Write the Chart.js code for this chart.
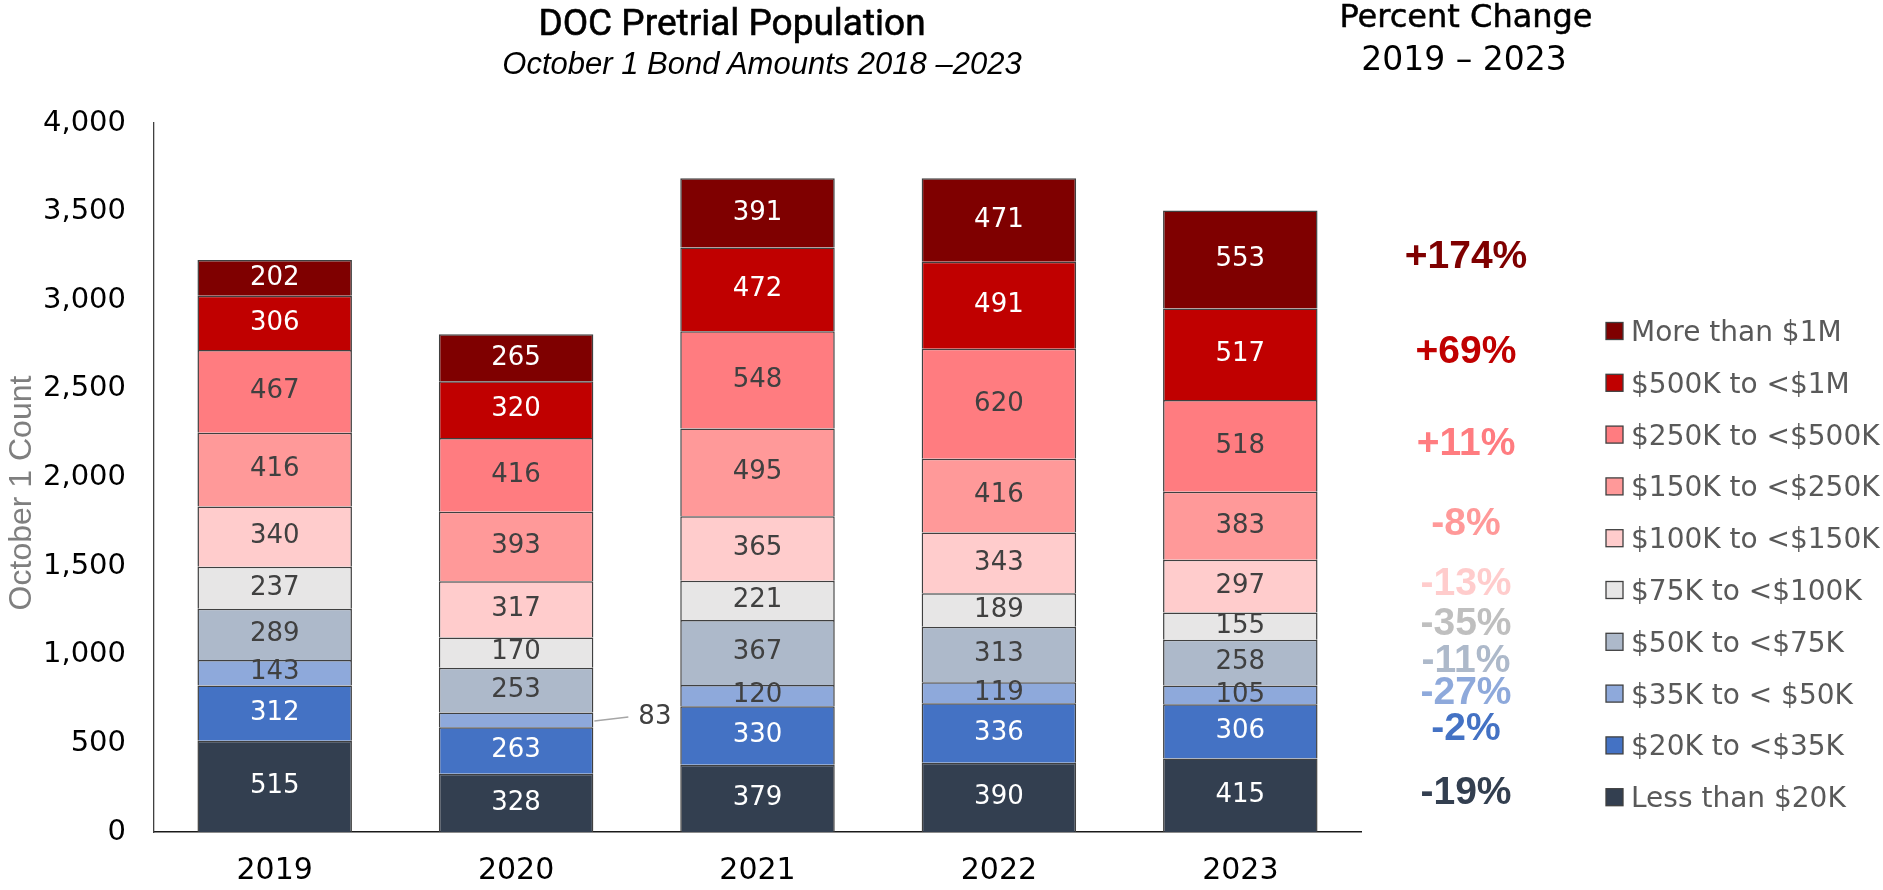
<!DOCTYPE html>
<html>
<head>
<meta charset="utf-8">
<title>DOC Pretrial Population</title>
<script src="https://cdn.jsdelivr.net/npm/chart.js@4.4.1/dist/chart.umd.min.js"></script>
<style>
    html, body { margin: 0; padding: 0; background: #fff; }
    #wrap { position: relative; width: 1883px; height: 890px; }
    #chart { position: absolute; left: 0; top: 0; }
    .txt { position: absolute; white-space: nowrap; text-align: center; line-height: 1; color: #000; }
</style>
</head>
<body>
<div id="wrap">
    <canvas id="chart" width="1883" height="890"></canvas>
    <div class="txt" style="left: 432px; width: 600px; top: 1px; font: 400 37px Roboto; -webkit-text-stroke: 0.6px #000;">DOC Pretrial Population</div>
    <div class="txt" style="left: 462px; width: 600px; top: 46px; font: italic 31px 'Liberation Sans';">October 1 Bond Amounts 2018 –2023</div>
    <div class="txt" style="left: 1266px; width: 400px; top: -3px; font: 32px 'DejaVu Sans'; -webkit-text-stroke: 0.5px #000;">Percent Change</div>
    <div class="txt" style="left: 1264px; width: 400px; top: 39px; font: 33px 'DejaVu Sans';">2019 – 2023</div>
</div>
<script>
// Data (bottom of the stack first)
const years = ['2019', '2020', '2021', '2022', '2023'];
const bondBands = [
    'Less than $20K', '$20K to <$35K', '$35K to < $50K', '$50K to <$75K', '$75K to <$100K',
    '$100K to <$150K', '$150K to <$250K', '$250K to <$500K', '$500K to <$1M', 'More than $1M'
];
const lessThan20K = [515, 328, 379, 390, 415];
const from20Kto35K = [312, 263, 330, 336, 306];
const from35Kto50K = [143, 83, 120, 119, 105];
const from50Kto75K = [289, 253, 367, 313, 258];
const from75Kto100K = [237, 170, 221, 189, 155];
const from100Kto150K = [340, 317, 365, 343, 297];
const from150Kto250K = [416, 393, 495, 416, 383];
const from250Kto500K = [467, 416, 548, 620, 518];
const from500Kto1M = [306, 320, 472, 491, 517];
const moreThan1M = [202, 265, 391, 471, 553];
const pctChange = ['-19%', '-2%', '-27%', '-11%', '-35%', '-13%', '-8%', '+11%', '+69%', '+174%'];
const yTicks = [0, 500, 1000, 1500, 2000, 2500, 3000, 3500, 4000];

// Styles
const fillColors = ['#333F50', '#4472C4', '#8EA9DB', '#ADB9CA', '#E7E6E6', '#FFCCCC', '#FF9999', '#FF7C80', '#C00000', '#7F0000'];
const pctColors = ['#333F50', '#4472C4', '#8EA9DB', '#ADB9CA', '#BFBFBF', '#FFCCCC', '#FF9999', '#FF7C80', '#C00000', '#7F0000'];
const valueColors = ['#fff', '#fff', '#404040', '#404040', '#404040', '#404040', '#404040', '#404040', '#fff', '#fff'];

const seriesValues = [
    lessThan20K, from20Kto35K, from35Kto50K, from50Kto75K, from75Kto100K,
    from100Kto150K, from150Kto250K, from250Kto500K, from500Kto1M, moreThan1M
];

// Numbers inside each stacked segment
const segmentLabels = {
    id: 'segmentLabels',
    afterDatasetsDraw(chart) {
        const ctx = chart.ctx;
        ctx.save();
        ctx.font = '26px "DejaVu Sans"';
        ctx.textBaseline = 'middle';
        chart.data.datasets.forEach((ds, di) => {
            const meta = chart.getDatasetMeta(di);
            meta.data.forEach((bar, i) => {
                const v = ds.data[i];
                const cy = (bar.y + bar.base) / 2;
                if (v < 100) {
                    // too thin - put it outside with a leader line
                    const right = bar.x + bar.width / 2;
                    ctx.strokeStyle = '#a6a6a6';
                    ctx.lineWidth = 1.5;
                    ctx.beginPath();
                    ctx.moveTo(right + 1, cy + 1);
                    ctx.lineTo(right + 35, cy - 3);
                    ctx.stroke();
                    ctx.fillStyle = '#404040';
                    ctx.textAlign = 'left';
                    ctx.fillText(v, right + 45, cy - 3);
                } else {
                    ctx.fillStyle = valueColors[di];
                    ctx.textAlign = 'center';
                    ctx.fillText(v, bar.x, cy);
                }
            });
        });
        ctx.restore();
    }
};

// Percent change column, legend and y axis title
const sideNotes = {
    id: 'sideNotes',
    afterDraw(chart) {
        const ctx = chart.ctx;
        const yScale = chart.scales.y;
        const last = years.length - 1;
        ctx.save();

        // percent change sits level with the 2023 segments
        let run = 0;
        ctx.font = 'bold 39px "Liberation Sans"';
        ctx.textAlign = 'center';
        ctx.textBaseline = 'alphabetic';
        chart.data.datasets.forEach((ds, di) => {
            const v = ds.data[last];
            const cy = yScale.getPixelForValue(run + v / 2);
            run += v;
            ctx.fillStyle = pctColors[di];
            ctx.fillText(pctChange[di], 1466, cy + 9);
        });

        // legend, top band first
        ctx.font = '28px "DejaVu Sans"';
        ctx.textAlign = 'left';
        for (let k = 0; k < bondBands.length; k++) {
            const di = bondBands.length - 1 - k;
            const y = 331 + k * 51.8;
            ctx.fillStyle = fillColors[di];
            ctx.fillRect(1606, y - 8.5, 17, 17);
            ctx.strokeStyle = '#404040';
            ctx.lineWidth = 1.3;
            ctx.strokeRect(1606, y - 8.5, 17, 17);
            ctx.fillStyle = '#595959';
            ctx.fillText(bondBands[di], 1631, y + 10);
        }

        // y axis title
        ctx.translate(31, 493);
        ctx.rotate(-Math.PI / 2);
        ctx.font = '32px "Liberation Sans"';
        ctx.fillStyle = '#7f7f7f';
        ctx.textAlign = 'center';
        ctx.fillText('October 1 Count', 0, 0);
        ctx.restore();
    }
};

const datasets = bondBands.map((band, di) => ({
    label: band,
    data: seriesValues[di],
    backgroundColor: fillColors[di],
    borderColor: '#404040',
    borderWidth: 1.5,
    barPercentage: 0.64,
    categoryPercentage: 1
}));

new Chart(document.getElementById('chart'), {
    type: 'bar',
    data: { labels: years, datasets: datasets },
    plugins: [segmentLabels, sideNotes],
    options: {
        responsive: false,
        animation: false,
        layout: { padding: { left: 0, right: 522, top: 123, bottom: 0 } },
        plugins: {
            legend: { display: false },
            tooltip: { enabled: false }
        },
        scales: {
            x: {
                stacked: true,
                grid: { display: false, drawTicks: false },
                border: { display: true, color: '#1a1a1a', width: 1.5 },
                ticks: { font: { family: 'DejaVu Sans', size: 30 }, color: '#000', padding: 21 },
                afterFit: scale => { scale.height = 58; }
            },
            y: {
                stacked: true,
                min: 0,
                max: 4000,
                afterBuildTicks: scale => { scale.ticks = yTicks.map(v => ({ value: v })); },
                grid: { display: false, drawTicks: false },
                border: { display: true, color: '#404040', width: 1.3 },
                ticks: {
                    font: { family: 'DejaVu Sans', size: 29 },
                    color: '#000',
                    padding: 28,
                    callback: value => value.toLocaleString('en-US')
                },
                afterFit: scale => { scale.width = 154; }
            }
        }
    }
});
</script>
</body>
</html>
